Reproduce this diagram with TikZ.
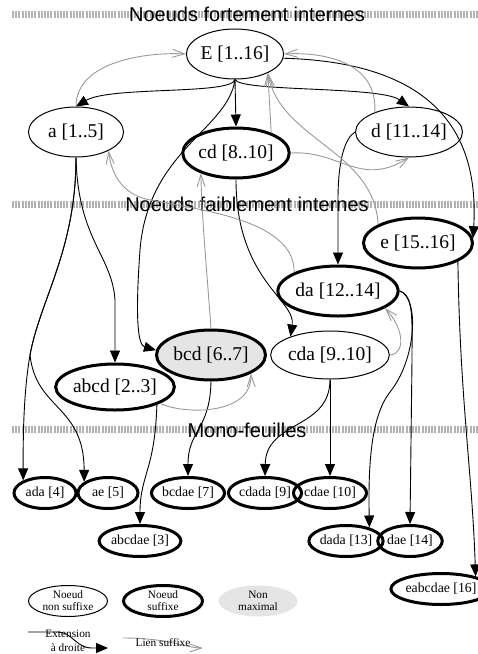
\documentclass[tikz,border=0pt]{standalone}
\usepackage{fontspec}
\setmainfont{Liberation Serif}
\setsansfont{Liberation Sans}
\usetikzlibrary{arrows.meta,shapes.geometric}

\begin{document}
\begin{tikzpicture}[x=1pt,y=-1pt,
    noeud/.style={ellipse,draw,line width=1pt,inner sep=0pt,minimum height=50pt,font=\fontsize{19.5}{22}\selectfont},
    suffixe/.style={noeud,line width=3pt},
    nonmax/.style={suffixe,fill=black!10},
    feuille/.style={ellipse,draw,line width=3pt,inner sep=0pt,minimum height=31pt,font=\fontsize{13.8}{16}\selectfont},
    legende/.style={ellipse,inner sep=0pt,minimum width=79pt,minimum height=31pt,align=center,font=\fontsize{11.3}{12}\selectfont},
    ext/.style={draw=black,line width=0.9pt,-{Triangle[length=12pt,width=10pt]}},
    lien/.style={draw=black!40,line width=0.9pt,-{Straight Barb[length=12pt,width=8pt]}},
    bande/.style={draw=black!30,line width=7pt,dash pattern=on 2pt off 1.2pt},
    titre/.style={anchor=base,inner sep=0pt,font=\sffamily\fontsize{20}{22}\selectfont}]
      \useasboundingbox (0,0) rectangle (478,654);
      \draw[bande] (12,14) -- (478,14);
      \draw[bande] (12,204) -- (478,204);
      \draw[bande] (12,429) -- (478,429);
      \node[titre] (fort) at (247,21) {Noeuds fortement internes};
      \node[titre] (faible) at (247,211) {Noeuds faiblement internes};
      \node[titre] (mono) at (247,437) {Mono-feuilles};
      \begin{scope}
        \node[noeud,minimum width=95pt] (E) at (235,54) {E [1..16]};
        \node[noeud,minimum width=95pt] (a) at (76,132) {a [1..5]};
        \node[suffixe,minimum width=93pt] (cd) at (236,153) {cd [8..10]};
        \node[noeud,minimum width=95pt] (d) at (409,132) {d [11..14]};
        \node[suffixe,minimum width=109pt] (e) at (418,243) {e [15..16]};
        \node[suffixe,minimum width=107pt] (da) at (338,291) {da [12..14]};
        \node[nonmax,minimum width=109pt] (bcd) at (211,355) {bcd [6..7]};
        \node[noeud,minimum width=94pt,minimum height=48pt] (cda) at (330,355) {cda [9..10]};
        \node[suffixe,minimum width=110pt,minimum height=46pt] (abcd) at (115,387) {abcd [2..3]};
      \end{scope}
      \begin{scope}[every node/.style={feuille}]
        \node[minimum width=62pt] (ada) at (45,493) {ada [4]};
        \node[minimum width=60pt] (ae) at (108,493) {ae [5]};
        \node[minimum width=65pt] (bcdae) at (188,493) {bcdae [7]};
        \node[minimum width=63pt] (cdada) at (265,493) {cdada [9]};
        \node[minimum width=63pt] (cdae) at (330,493) {cdae [10]};
        \node[minimum width=65pt] (abcdae) at (140,541) {abcdae [3]};
        \node[minimum width=63pt] (dada) at (346,541) {dada [13]};
        \node[minimum width=62pt] (dae) at (410,541) {dae [14]};
        \node[minimum width=76pt] (eabcdae) at (441,589) {eabcdae [16]};
      \end{scope}
      \begin{scope}[every path/.style={ext}]
        \draw (E.south) .. controls (232,95) and (110,86) .. (a.north);
        \draw (E.south) -- (cd.north);
        \draw (E.south) .. controls (240,92) and (380,86) .. (d.north);
        \draw (E.-5) .. controls (420,62) and (480,120) .. (e.5);
        \draw (E.south) .. controls (228,130) and (148,150) .. (140,250) .. controls (135,320) and (138,345) .. (bcd.175);
        \draw (a.south) .. controls (76,250) and (40,300) .. (30,355) .. controls (24,390) and (23,430) .. (ada.150);
        \draw (a.south) .. controls (76,250) and (40,300) .. (30,355) .. controls (36,410) and (84,405) .. (ae.155);
        \draw (a.south) .. controls (78,240) and (112,255) .. (115,300) -- (abcd.north);
        \draw (abcd.-23) .. controls (155,470) and (140,475) .. (abcdae.north);
        \draw (bcd.south) .. controls (210,430) and (188,430) .. (bcdae.north);
        \draw (cd.south) .. controls (236,280) and (296,300) .. (cda.155);
        \draw (cda.south) .. controls (330,430) and (266,420) .. (cdada.north);
        \draw (cda.south) -- (cdae.north);
        \draw (d.west) .. controls (345,138) and (338,160) .. (338,200) -- (da.north);
        \draw (da.east) .. controls (420,298) and (416,360) .. (390,392) .. controls (372,415) and (368,460) .. (dada.30);
        \draw (da.east) .. controls (414,295) and (412,320) .. (412,360) -- (dae.north);
        \draw (e.-25) .. controls (460,400) and (472,470) .. (eabcdae.20);
      \end{scope}
      \begin{scope}[every path/.style={lien}]
        \draw (a.north) .. controls (76,60) and (150,52) .. (E.west);
        \draw (d.150) .. controls (378,60) and (320,52) .. (E.east);
        \draw (cd.30) -- (E.-30);
        \draw (e.155) .. controls (374,150) and (280,140) .. (E.-30);
        \draw (cd.east) .. controls (340,150) and (360,188) .. (d.south);
        \draw (da.157) .. controls (295,220) and (200,210) .. (150,200) .. controls (125,195) and (112,178) .. (a.-30);
        \draw (bcd.north) .. controls (206,260) and (202,220) .. (cd.-150);
        \draw (cda.east) .. controls (405,354) and (405,330) .. (da.-20);
        \draw (abcd.-20) .. controls (185,415) and (252,415) .. (bcd.-25);
      \end{scope}
      \node[legende,draw,line width=1pt] (nonsuf) at (68,601) {Noeud\\non suffixe};
      \node[legende,draw,line width=3pt] (suf) at (163,601) {Noeud\\suffixe};
      \node[legende,fill=black!10] (nonmaxi) at (258,601) {Non\\maximal};
      \coordinate (extdeb) at (28,632);
      \coordinate (extfin) at (108,648);
      \coordinate (liendeb) at (123,638);
      \coordinate (lienfin) at (203,648);
      \draw[ext] (extdeb) -- (58,632) .. controls (72,632) and (76,648) .. (92,648) -- (extfin);
      \draw[lien] (liendeb) .. controls (170,638) and (185,648) .. (lienfin);
      \node[align=center,inner sep=0pt,font=\fontsize{11.3}{14}\selectfont] (extlbl) at (68,641) {Extension\\à droite};
      \node[inner sep=0pt,font=\fontsize{11.3}{14}\selectfont] (lienlbl) at (163,643) {Lien suffixe};
    \end{tikzpicture}
\end{document}
